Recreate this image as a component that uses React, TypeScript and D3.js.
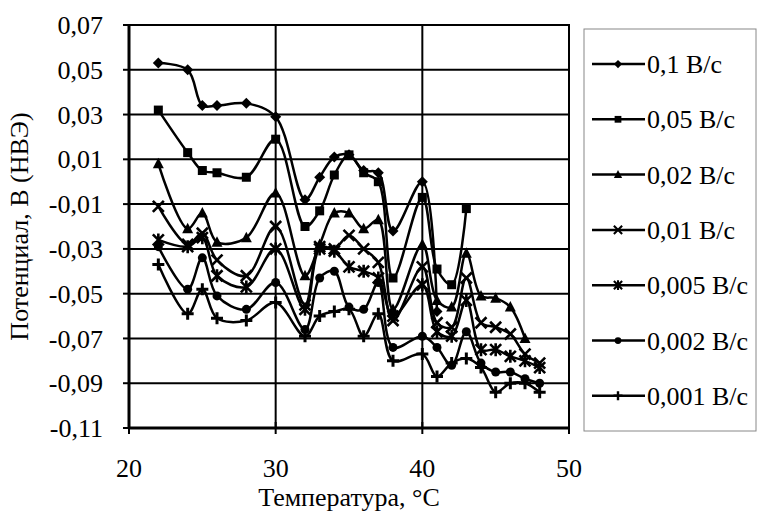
import React from "react";
import * as d3 from "d3";

const temps = [22, 24, 25, 26, 28, 30, 32, 33, 34, 35, 36, 37, 38, 40, 41, 42, 43, 44, 45, 46, 47, 48];

const s01 = [0.053, 0.050, 0.034, 0.034, 0.035, 0.029, -0.008, 0.002, 0.011, 0.012, 0.005, 0.004, -0.022, 0.000, -0.058];
const s005 = [0.032, 0.013, 0.005, 0.004, 0.002, 0.019, -0.020, -0.013, 0.003, 0.012, 0.004, 0.000, -0.043, -0.007, -0.039, -0.046, -0.012];
const s002 = [0.008, -0.021, -0.014, -0.027, -0.025, -0.005, -0.042, -0.028, -0.014, -0.014, -0.021, -0.017, -0.057, -0.028, -0.053, -0.056, -0.032, -0.051, -0.052, -0.056, -0.070];
const s001 = [-0.011, -0.028, -0.023, -0.035, -0.042, -0.020, -0.055, -0.029, -0.030, -0.024, -0.030, -0.036, -0.062, -0.038, -0.063, -0.065, -0.043, -0.063, -0.065, -0.068, -0.077, -0.081];
const s0005 = [-0.026, -0.029, -0.025, -0.042, -0.047, -0.030, -0.057, -0.030, -0.031, -0.038, -0.040, -0.043, -0.060, -0.046, -0.067, -0.069, -0.053, -0.075, -0.075, -0.078, -0.080, -0.083];
const s0002 = [-0.029, -0.048, -0.034, -0.051, -0.057, -0.045, -0.066, -0.043, -0.040, -0.056, -0.057, -0.045, -0.074, -0.069, -0.074, -0.082, -0.067, -0.081, -0.085, -0.085, -0.088, -0.090];
const s0001 = [-0.037, -0.059, -0.048, -0.061, -0.062, -0.054, -0.069, -0.060, -0.058, -0.057, -0.069, -0.059, -0.080, -0.077, -0.087, -0.081, -0.079, -0.083, -0.094, -0.090, -0.090, -0.094];

const seriesNames = ["0,1 В/с", "0,05 В/с", "0,02 В/с", "0,01 В/с", "0,005 В/с", "0,002 В/с", "0,001 В/с"];
const seriesValues = [s01, s005, s002, s001, s0005, s0002, s0001];
const markerTypes = ["diamond", "square", "triangle", "x", "asterisk", "circle", "plus"];

const xTicks = [20, 30, 40, 50];
const yTicks = [-0.11, -0.09, -0.07, -0.05, -0.03, -0.01, 0.01, 0.03, 0.05, 0.07];

const W = 757, H = 511;
const L = 129, R = 569, T = 25, B = 428;
const FONT = "Liberation Serif, Times New Roman, DejaVu Serif, serif";
const FS = 26;
const txtStyle = { fontFamily: FONT, fontSize: FS } as React.CSSProperties;

function Marker({ type, x, y, s }: { type: string; x: number; y: number; s: number }) {
  const k = s;
  const sw = (w: number) => w * Math.max(k, 0.8);
  switch (type) {
    case "diamond":
      return <path d={`M${x},${y - 5.5 * k}L${x + 5.5 * k},${y}L${x},${y + 5.5 * k}L${x - 5.5 * k},${y}Z`} fill="#000" />;
    case "square":
      return <rect x={x - 4.5 * k} y={y - 4.5 * k} width={9 * k} height={9 * k} fill="#000" />;
    case "triangle":
      return <path d={`M${x},${y - 6 * k}L${x + 5.5 * k},${y + 4.5 * k}L${x - 5.5 * k},${y + 4.5 * k}Z`} fill="#000" />;
    case "x":
      return <path d={`M${x - 5.5 * k},${y - 5.5 * k}L${x + 5.5 * k},${y + 5.5 * k}M${x + 5.5 * k},${y - 5.5 * k}L${x - 5.5 * k},${y + 5.5 * k}`} stroke="#000" strokeWidth={sw(2.6)} fill="none" />;
    case "asterisk":
      return <path d={`M${x - 5.5 * k},${y - 5.5 * k}L${x + 5.5 * k},${y + 5.5 * k}M${x + 5.5 * k},${y - 5.5 * k}L${x - 5.5 * k},${y + 5.5 * k}M${x},${y - 6.5 * k}L${x},${y + 6.5 * k}`} stroke="#000" strokeWidth={sw(2.6)} fill="none" />;
    case "circle":
      return <circle cx={x} cy={y} r={4.5 * k} fill="#000" />;
    case "plus":
      return <path d={`M${x - 6 * k},${y}L${x + 6 * k},${y}M${x},${y - 6 * k}L${x},${y + 6 * k}`} stroke="#000" strokeWidth={sw(3)} fill="none" />;
    default:
      return null;
  }
}

export default function App() {
  const x = d3.scaleLinear().domain([20, 50]).range([L, R]);
  const y = d3.scaleLinear().domain([-0.11, 0.07]).range([B, T]);
  const line = d3
    .line<[number, number]>()
    .x((d) => x(d[0]))
    .y((d) => y(d[1]))
    .curve(d3.curveCatmullRom.alpha(0.5));
  const fmt = (v: number) => d3.format(".2f")(v).replace("−", "-").replace(".", ",");

  const legX = 584, legY = 29, legStep = 55.3, legFirst = 64;

  return (
    <svg width={W} height={H} style={{ position: "absolute", left: 0, top: 0, background: "#fff", fontFamily: FONT }}>
      <rect x={0} y={0} width={W} height={H} fill="#fff" />
      {yTicks.map((t) => (
        <line key={"gy" + t} x1={L} x2={R} y1={y(t)} y2={y(t)} stroke="#000" strokeWidth={2} />
      ))}
      {xTicks.map((t) => (
        <line key={"gx" + t} x1={x(t)} x2={x(t)} y1={T} y2={B} stroke="#000" strokeWidth={2} />
      ))}
      <rect x={L} y={T} width={R - L} height={B - T} fill="none" stroke="#000" strokeWidth={2} />
      <line x1={L} x2={L} y1={T} y2={B} stroke="#000" strokeWidth={3} />
      <line x1={L} x2={R} y1={B} y2={B} stroke="#000" strokeWidth={3} />
      {yTicks.map((t) => (
        <line key={"ty" + t} x1={L - 6} x2={L} y1={y(t)} y2={y(t)} stroke="#000" strokeWidth={2} />
      ))}
      {xTicks.map((t) => (
        <line key={"tx" + t} x1={x(t)} x2={x(t)} y1={B - 6} y2={B + 6} stroke="#000" strokeWidth={2} />
      ))}
      {yTicks.map((t) => (
        <text key={"ly" + t} x={103} y={y(t)} dy="0.35em" textAnchor="end" style={txtStyle}>
          {fmt(t)}
        </text>
      ))}
      {xTicks.map((t) => (
        <text key={"lx" + t} x={x(t)} y={477} textAnchor="middle" style={txtStyle}>
          {t}
        </text>
      ))}
      <text x={(L + R) / 2} y={506} textAnchor="middle" style={txtStyle}>
        Температура, °C
      </text>
      <text transform={`translate(28,${(T + B) / 2}) rotate(-90)`} textAnchor="middle" style={txtStyle}>
        Потенциал, В (НВЭ)
      </text>
      {seriesValues.map((vals, i) => {
        const pts: [number, number][] = vals.map((v, j) => [temps[j], v]);
        return (
          <g key={"s" + i}>
            <path d={line(pts) || ""} fill="none" stroke="#000" strokeWidth={2.5} />
            {pts.map((p, j) => (
              <Marker key={j} type={markerTypes[i]} x={x(p[0])} y={y(p[1])} s={1} />
            ))}
          </g>
        );
      })}
      <rect x={legX} y={legY} width={W - legX - 1} height={431 - legY} fill="#fff" stroke="#888" strokeWidth={1} />
      {seriesNames.map((n, i) => {
        const cy = legFirst + i * legStep;
        return (
          <g key={"lg" + i}>
            <line x1={592} x2={645} y1={cy} y2={cy} stroke="#000" strokeWidth={2.5} />
            <Marker type={markerTypes[i]} x={618} y={cy} s={0.75} />
            <text x={647} y={cy} dy="0.35em" style={txtStyle}>
              {n}
            </text>
          </g>
        );
      })}
    </svg>
  );
}
